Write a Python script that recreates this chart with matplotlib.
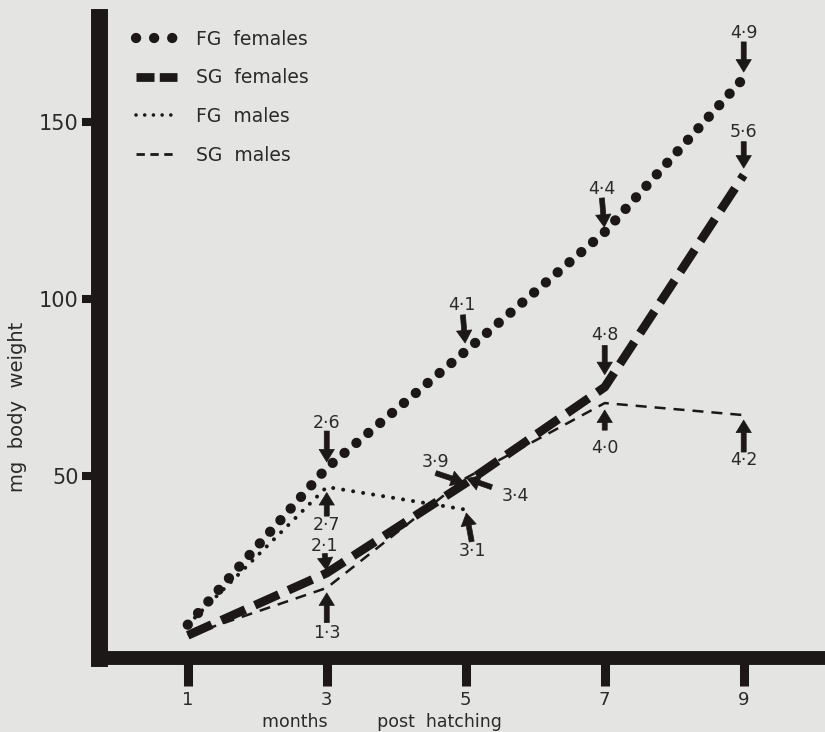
import matplotlib
matplotlib.use('Agg')
import matplotlib.pyplot as plt
from matplotlib.lines import Line2D

plt.rcParams['font.family'] = ['DejaVu Sans']

# data (mg body weight at months post hatching)
months = [1, 3, 5, 7, 9]
fg_females = [8, 52.3, 85.3, 118.9, 162.4]
sg_females = [5, 22.6, 48, 75.1, 135]
fg_males_months = [1, 3, 5]
fg_males = [8, 46.9, 40.5]
sg_males = [5, 18.4, 49.4, 70.6, 67.2]

# numbers printed next to the arrows (one per point, None = no arrow)
fg_females_lab = [None, '2·6', '4·1', '4·4', '4·9']
sg_females_lab = [None, '2·1', '3·9', '4·8', '5·6']
fg_males_lab = [None, '2·7', '3·1']
sg_males_lab = [None, '1·3', '3·4', '4·0', '4·2']

xticks = [1, 3, 5, 7, 9]
yticks = [50, 100, 150]

ink = '#1c1818'
txt = '#2a2a2a'
bg = '#e4e4e2'

fig = plt.figure(figsize=(8.25, 7.32), dpi=100, facecolor=bg)
ax = fig.add_axes([0.1206, 0.1011, 0.8794, 0.875])
ax.set_facecolor(bg)

ax.plot(months, fg_females, color=ink, lw=7.4, dashes=(0.01, 1.5),
        dash_capstyle='round')
ax.plot(months, sg_females, color=ink, lw=6.3, dashes=(3.0, 1.2),
        dash_capstyle='butt')
ax.plot(fg_males_months, fg_males, color=ink, lw=2.9, dashes=(0.01, 2.5),
        dash_capstyle='round')
ax.plot(months, sg_males, color=ink, lw=1.8, dashes=(4.4, 3.2),
        dash_capstyle='butt')

# arrow placement in points relative to the marked point:
# (label offset, arrow tail offset, gap left before the point)
arrow_style = 'simple,head_length=0.45,head_width=0.55,tail_width=0.18'
place = {
    'fgf': [None, ((0, 32.4), (0, 26.5), 4.3), ((-3, 33), (-2, 26), 5.8),
            ((-2, 31), (-2, 24.5), 3.6), ((0, 32.4), (0, 26), 4.3)],
    'sgf': [None, ((-1.5, 19.5), (-1.5, 14), 2), ((-21.6, 15), (-21.6, 7.2), 1.5),
            ((0, 37.5), (0, 30), 9), ((0, 31), (0, 24), 5)],
    'fgm': [None, ((0, -27.4), (0, -21), 4), ((4.5, -30), (4.3, -23), 2.5)],
    'sgm': [None, ((0, -32.5), (0, -25), 3.6), ((36, -13), (18.7, -6.5), 1),
            ((0, -32), (0, -19.5), 5), ((0, -32.4), (0, -26.6), 3.6)],
}
series = [('fgf', months, fg_females, fg_females_lab),
          ('sgf', months, sg_females, sg_females_lab),
          ('fgm', fg_males_months, fg_males, fg_males_lab),
          ('sgm', months, sg_males, sg_males_lab)]
for key, xs, ys, labs in series:
    for i, (x, y, lab) in enumerate(zip(xs, ys, labs)):
        if lab is None:
            continue
        lab_off, tail_off, gap = place[key][i]
        ax.annotate('', xy=(x, y), xytext=tail_off, textcoords='offset points',
                    arrowprops=dict(arrowstyle=arrow_style, mutation_scale=20,
                                    fc=ink, ec=ink, lw=0.5,
                                    shrinkA=0, shrinkB=gap))
        ax.annotate(lab, xy=(x, y), xytext=lab_off, textcoords='offset points',
                    ha='center', va='center', fontsize=12.5, color=txt)

ax.set_xlim(-0.27, 10.17)
ax.set_ylim(-1.4, 179.5)

for s in ['top', 'right']:
    ax.spines[s].set_visible(False)
ax.spines['left'].set_linewidth(12.2)
ax.spines['bottom'].set_linewidth(10)
for s in ['left', 'bottom']:
    ax.spines[s].set_color(ink)
    ax.spines[s].set_capstyle('projecting')

ax.set_xticks(xticks)
ax.set_yticks(yticks)
ax.tick_params(axis='y', length=12, width=5.8, pad=3, color=ink,
               labelsize=15, labelcolor=txt)
ax.tick_params(axis='x', length=20, width=6.5, pad=4, color=ink,
               labelsize=13, labelcolor=txt)

ax.set_xlabel('months         post  hatching', fontsize=12.5, color=txt)
ax.xaxis.set_label_coords(0.389, -0.086)
ax.set_ylabel('mg  body  weight', fontsize=14, color=txt)
ax.yaxis.set_label_coords(-0.1, 0.392)

# legend proxies with shorter patterns so they fit the key
h1 = Line2D([], [], color=ink, lw=7.4, dashes=(0.01, 1.75), dash_capstyle='round')
h2 = Line2D([], [], color=ink, lw=6.3, dashes=(2.06, 0.6), dash_capstyle='butt')
h3 = Line2D([], [], color=ink, lw=2.6, dashes=(0.01, 2.4), dash_capstyle='round')
h4 = Line2D([], [], color=ink, lw=2.0, dashes=(3.0, 2.0), dash_capstyle='butt')
leg = ax.legend([h1, h2, h3, h4], ['FG  females', 'SG  females', 'FG  males', 'SG  males'],
                loc='upper left', bbox_to_anchor=(0.05, 0.981), frameon=False,
                borderaxespad=0, borderpad=0, handlelength=2.2, handletextpad=1.0,
                labelspacing=1.05, fontsize=13.5)
for t in leg.get_texts():
    t.set_color(txt)

fig.savefig('out.png', dpi=100, facecolor=bg)
